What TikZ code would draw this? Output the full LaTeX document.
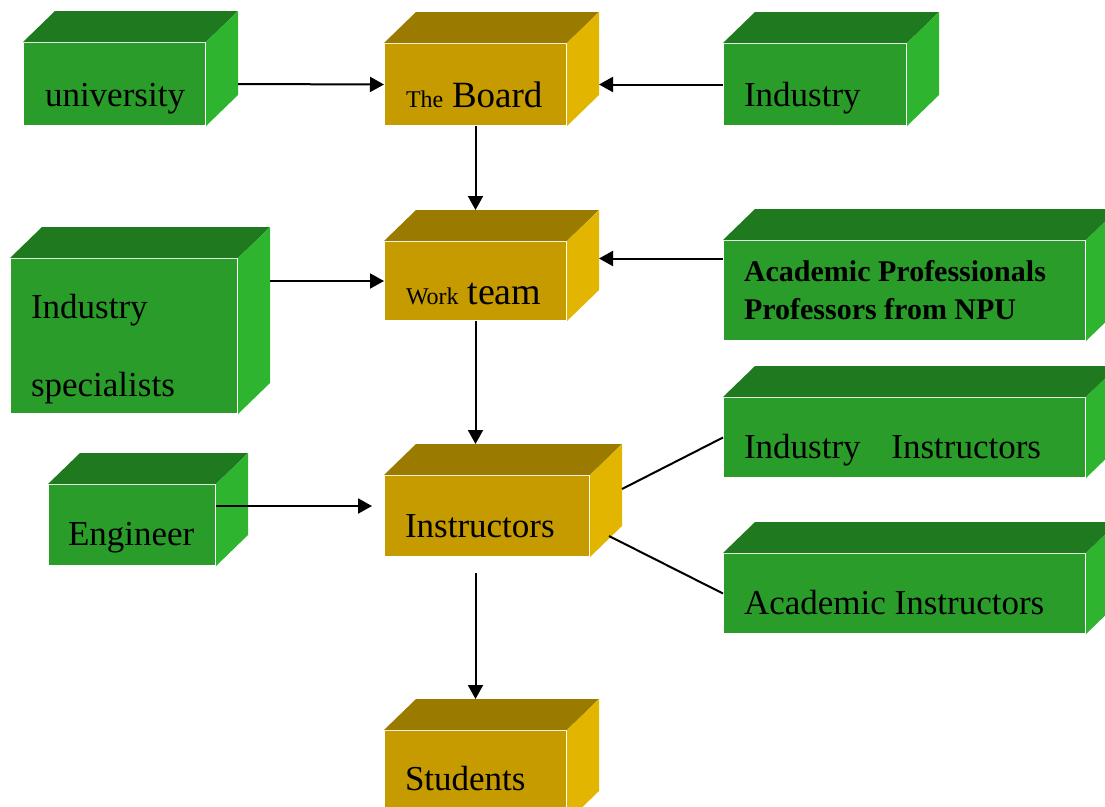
\documentclass[tikz,border=0pt]{standalone}
\usepackage{fontspec}
\setmainfont{Liberation Serif}
\usetikzlibrary{calc,arrows.meta}

\definecolor{grnfront}{RGB}{42,156,42}
\definecolor{grntop}{RGB}{31,122,31}
\definecolor{grnside}{RGB}{46,180,46}
\definecolor{gldfront}{RGB}{197,155,0}
\definecolor{gldtop}{RGB}{154,123,0}
\definecolor{gldside}{RGB}{226,181,0}

% top and side faces of a box whose front face is node #1
\newcommand\cuboid[3]{%
  \fill[#2] (#1.north west) -- ++(32,-31) -- ($(#1.north east)+(32,-31)$) -- (#1.north east) -- cycle;
  \fill[#3] (#1.north east) -- ++(32,-31) -- ($(#1.south east)+(32,-31)$) -- (#1.south east) -- cycle;
  \coordinate (#1-top) at ($(#1.north)+(0,-31)$);
  \coordinate (#1-back) at ($(#1.east)+(32,0)$);}

\begin{document}
\begin{tikzpicture}[x=1pt, y=-1pt,
    front/.style={rectangle, inner sep=0pt, anchor=north west},
    green/.style={front, fill=grnfront},
    gold/.style={front, fill=gldfront},
    lbl/.style={anchor=base west, inner sep=0pt, font=\fontsize{35}{40}\selectfont},
    lblbold/.style={anchor=base west, inner sep=0pt, font=\fontsize{30}{34}\selectfont\bfseries},
    >={Triangle[length=14pt,width=15pt]}, line width=2pt]
        \useasboundingbox (0,0) rectangle (1105,806);
        % Boxes
        \node[green, minimum width=181pt, minimum height=82pt] (univ) at (23,42) {};
        \cuboid{univ}{grntop}{grnside}
        \node[gold, minimum width=181pt, minimum height=81pt] (board) at (384,43) {};
        \cuboid{board}{gldtop}{gldside}
        \node[green, minimum width=182pt, minimum height=81pt] (ind) at (723,43) {};
        \cuboid{ind}{grntop}{grnside}
        \node[gold, minimum width=181pt, minimum height=78pt] (work) at (384,241) {};
        \cuboid{work}{gldtop}{gldside}
        \node[green, minimum width=226pt, minimum height=154pt] (spec) at (10,258) {};
        \cuboid{spec}{grntop}{grnside}
        \node[green, minimum width=361pt, minimum height=99pt] (acad) at (723,240) {};
        \cuboid{acad}{grntop}{grnside}
        \node[green, minimum width=361pt, minimum height=79pt] (indinst) at (723,397) {};
        \cuboid{indinst}{grntop}{grnside}
        \node[green, minimum width=361pt, minimum height=79pt] (acadinst) at (723,553) {};
        \cuboid{acadinst}{grntop}{grnside}
        \node[green, minimum width=166pt, minimum height=80pt] (eng) at (48,484) {};
        \cuboid{eng}{grntop}{grnside}
        \node[gold, minimum width=204pt, minimum height=80pt] (instr) at (384,475) {};
        \cuboid{instr}{gldtop}{gldside}
        \node[gold, minimum width=181pt, minimum height=90pt] (stud) at (384,730) {};
        \cuboid{stud}{gldtop}{gldside}
        % Labels
        \node[lbl] (univ-l) at (44,106) {university};
        \node[lbl] (board-l) at (405,107) {{\fontsize{24}{28}\selectfont The} {\fontsize{37}{40}\selectfont Board}};
        \node[lbl] (ind-l) at (743,106) {Industry};
        \node[lbl] (work-l) at (405,304) {{\fontsize{24}{28}\selectfont Work} {\fontsize{38}{40}\selectfont team}};
        \node[lbl] (spec-l1) at (30,318) {Industry};
        \node[lbl] (spec-l2) at (30,396) {specialists};
        \node[lblbold] (acad-l1) at (743,281) {Academic Professionals};
        \node[lblbold] (acad-l2) at (743,319) {Professors from NPU};
        \node[lbl] (indinst-l) at (743,458) {Industry\hspace{22pt} Instructors};
        \node[lbl] (acadinst-l) at (743,614) {Academic Instructors};
        \node[lbl] (eng-l) at (67,545) {Engineer};
        \node[lbl] (instr-l) at (404,537) {Instructors};
        \node[lbl] (stud-l) at (404,790) {Students};
        % Connectors
        \coordinate (e1) at ([yshift=19pt]eng.east);
        \coordinate (a1) at ([yshift=32pt]acad.west);
        \coordinate (i1) at ($(work.south |- instr.south)+(0,16)$);
        \draw[->] (univ-back) -- (board.west);
        \draw[->] (ind.west) -- (board-back);
        \draw[->] (board.south) -- (work-top);
        \draw[->] (spec-back |- work.west) -- (work.west);
        \draw[->] (a1) -- (a1 -| work-back);
        \draw[->] (work.south) -- (work.south |- instr-top);
        \draw[->] (e1) -- ($(e1 -| instr.west)+(-12,0)$);
        \draw[->] (i1) -- (i1 |- stud-top);
        \draw ([xshift=32pt,yshift=27pt]instr.east) -- (indinst.west);
        \draw ([xshift=19pt,yshift=-20pt]instr.east) -- (acadinst.west);
\end{tikzpicture}
\end{document}
